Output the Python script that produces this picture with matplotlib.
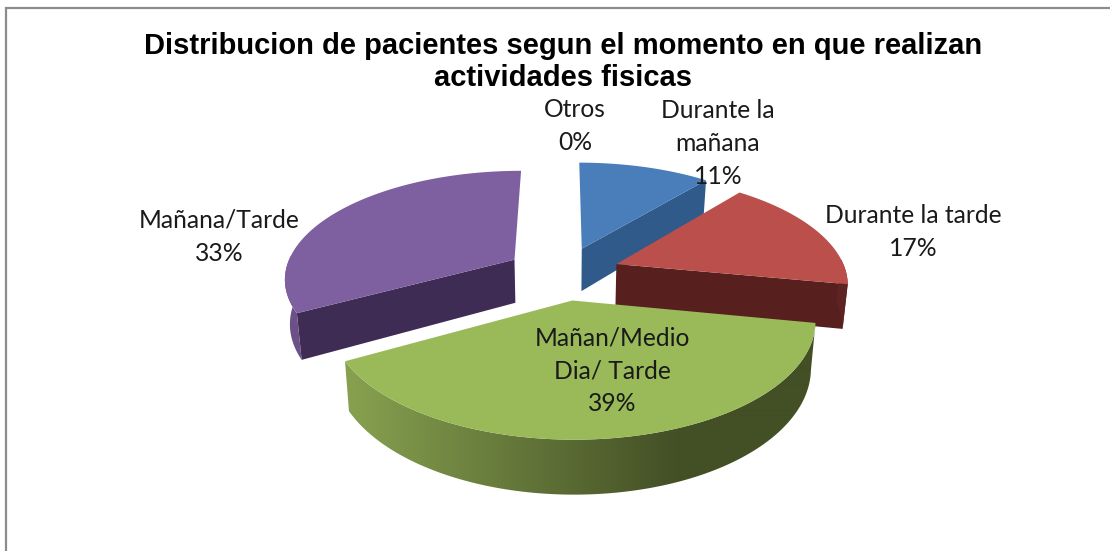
import numpy as np
from matplotlib import pyplot as plt
from matplotlib.colors import LinearSegmentedColormap
from matplotlib.patches import Polygon

# chart values
categories = ['Durante la\nmañana', 'Durante la tarde', 'Mañan/Medio\nDia/ Tarde', 'Mañana/Tarde', 'Otros']
values = [11, 17, 39, 33, 0]
percent_labels = ['11%', '17%', '39%', '33%', '0%']
title_text = 'Distribucion de pacientes segun el momento en que realizan\nactividades fisicas'

top_colors = ['#4a7ebb', '#bb4f4c', '#9aba59', '#7e60a0', '#4bacc6']
face_colors = ['#2f5a8a', '#571f1e', '#4a5a2a', '#3f2c54', '#2c7a8c']
wall_colors = ['#2f5a8a', '#5e2423', '#86a04f', '#6b5187', '#2c7a8c']
wall_dark = ['#2f5a8a', '#5e2423', '#434f25', '#6b5187', '#2c7a8c']
label_pos = [(718, 111), (913, 216), (612, 338), (219, 221), (575, 110)]

# pie projection, in pixels
cx, cy = 563, 273
rx, ry = 230, 107
persp = 0.16
explode = 0.25
depth = 44
taper = 0.018


def project(u, v, drop=0.0):
    w = 1 / (1 + persp * v)
    shrink = 1 - taper * drop / depth
    return cx + rx * u * w * shrink, cy - ry * v * w + drop * w


fig = plt.figure(figsize=(11.1, 5.51), dpi=100)
ax = fig.add_axes([0, 0, 1, 1])

bounds = np.cumsum([0] + values) / sum(values) * 2 * np.pi
draw_order = [0, 3, 1, 2]
z = 2

for i in draw_order:
    start, end = bounds[i], bounds[i + 1]
    mid = (start + end) / 2
    off = (explode * np.sin(mid), explode * np.cos(mid))
    x0, y0 = project(off[0], off[1])
    x3, y3 = project(off[0], off[1], depth)

    # flat cut faces, only the ones turned towards the viewer
    for a, facing in ((start, np.sin(start)), (end, -np.sin(end))):
        if facing < -0.01:
            ex, ey = off[0] + np.sin(a), off[1] + np.cos(a)
            x1, y1 = project(ex, ey)
            x2, y2 = project(ex, ey, depth)
            ax.fill([x0, x1, x2, x3], [y0, y1, y2, y3], color=face_colors[i], lw=0, zorder=z)
            z += 1

    t = np.linspace(start, end, 160)

    # outer wall, front part only, shaded across its width
    front = t[np.cos(t) < 0.05]
    if len(front) > 1:
        xa, ya = project(off[0] + np.sin(front), off[1] + np.cos(front))
        xb, yb = project(off[0] + np.sin(front), off[1] + np.cos(front), depth)
        cmap = LinearSegmentedColormap.from_list('wall', [wall_colors[i], wall_dark[i]])
        grad = np.clip((np.linspace(0, 1110, 1110) - 350) / 330, 0, 1)[None, :]
        img = ax.imshow(grad, cmap=cmap, vmin=0, vmax=1, extent=(0, 1110, 551, 0), aspect='auto',
                        interpolation='bilinear', zorder=z)
        clip = Polygon(np.c_[np.r_[xa, xb[::-1]], np.r_[ya, yb[::-1]]], closed=True, transform=ax.transData)
        img.set_clip_path(clip)
        z += 1

    # top surface
    xs, ys = project(off[0] + np.sin(t), off[1] + np.cos(t))
    ax.fill(np.r_[x0, xs], np.r_[y0, ys], color=top_colors[i], lw=0, zorder=z)
    z += 1

ax.set_xlim(0, 1110)
ax.set_ylim(551, 0)
ax.axis('off')

ax.plot([6, 6, 1110], [551, 8, 8], color='#8c8c8c', lw=1.6, solid_joinstyle='miter', zorder=1)

for name, pct, (x, y) in zip(categories, percent_labels, label_pos):
    ax.text(x, y - 12, name + '\n' + pct, ha='center', va='top', fontsize=17.7, family='Lato',
            color='#1a1a1a', linespacing=1.53, zorder=z)

ax.text(563, 32, title_text, ha='center', va='top', fontsize=21, family='Liberation Sans',
        fontweight='bold', color='black', linespacing=1.2, zorder=z)

plt.savefig('out.png', dpi=100)
